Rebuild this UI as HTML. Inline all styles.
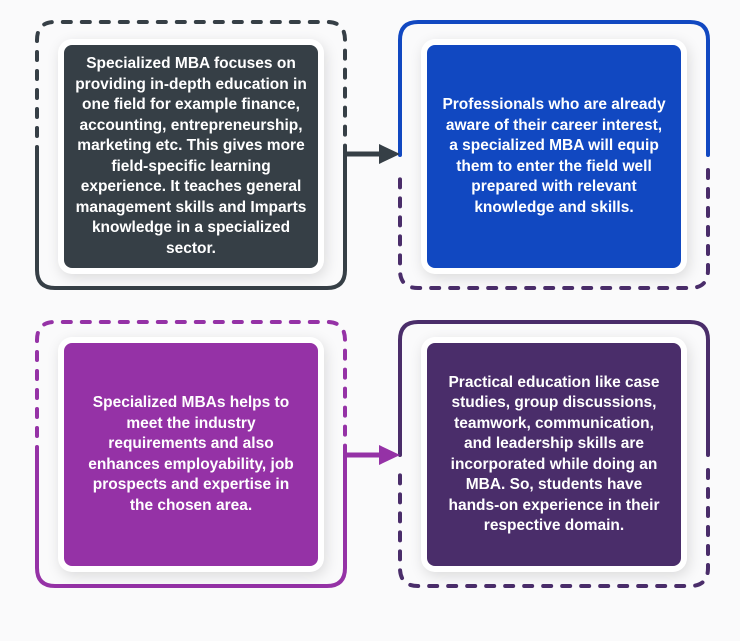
<!DOCTYPE html>
<html><head><meta charset="utf-8"><style>
body{margin:0;width:740px;height:641px;background:#fff;position:relative;overflow:hidden;font-family:"Liberation Sans Narrow","Liberation Sans",sans-serif}
.card{position:absolute;width:254px;height:223px;box-sizing:border-box;border-radius:8px;box-shadow:0 0 0 6px #fff,2px 4px 14px 6px rgba(0,0,0,0.13);display:flex;align-items:center;justify-content:center;text-align:center;color:#fff;font-weight:bold;font-size:15.5px;line-height:20.5px;padding:0 8px}
svg{position:absolute;left:0;top:0}
</style></head><body>
<svg width="740" height="641">
<rect x="0" y="0" width="740" height="641" fill="#fafafb"/>
<g fill="none" stroke-width="4" stroke-linecap="round">
<!-- TL -->
<path d="M37 155 V40 Q37 22 55 22 H327 Q345 22 345 40 V155" stroke="#363f46" stroke-dasharray="8 11"/>
<path d="M345 155 V270 Q345 288 327 288 H55 Q37 288 37 270 V155" stroke="#363f46"/>
<!-- TR -->
<path d="M400 155 V40 Q400 22 418 22 H690 Q708 22 708 40 V155" stroke="#1148c1"/>
<path d="M708 170 V270 Q708 288 690 288 H418 Q400 288 400 270 V170" stroke="#4a2d6a" stroke-dasharray="8 11"/>
<!-- BL -->
<path d="M37 455 V340 Q37 322 55 322 H327 Q345 322 345 340 V455" stroke="#9532a6" stroke-dasharray="8 11"/>
<path d="M345 455 V568 Q345 586 327 586 H55 Q37 586 37 568 V455" stroke="#9532a6"/>
<!-- BR -->
<path d="M400 455 V340 Q400 322 418 322 H690 Q708 322 708 340 V455" stroke="#4a2d6a"/>
<path d="M708 470 V568 Q708 586 690 586 H418 Q400 586 400 568 V470" stroke="#4a2d6a" stroke-dasharray="8 11"/>
</g>
<line x1="345" y1="154" x2="382" y2="154" stroke="#363f46" stroke-width="5"/>
<polygon points="379,144 400,154 379,164" fill="#363f46"/>
<line x1="345" y1="455" x2="382" y2="455" stroke="#9532a6" stroke-width="5"/>
<polygon points="379,445 400,455 379,465" fill="#9532a6"/>
</svg>
<div class="card" style="left:64px;top:45px;background:#363f46">Specialized MBA focuses on providing in-depth education in one field for example finance, accounting, entrepreneurship, marketing etc. This gives more field-specific learning experience. It teaches general management skills and Imparts knowledge in a specialized sector.</div>
<div class="card" style="left:427px;top:45px;background:#1148c1;padding:0 14px">Professionals who are already aware of their career interest, a specialized MBA will equip them to enter the field well prepared with relevant knowledge and skills.</div>
<div class="card" style="left:64px;top:343px;background:#9532a6;padding:0 16px">Specialized MBAs helps to meet the industry requirements and also enhances employability, job prospects and expertise in the chosen area.</div>
<div class="card" style="left:427px;top:343px;background:#4a2d6a;padding:0 14px">Practical education like case studies, group discussions, teamwork, communication, and leadership skills are incorporated while doing an MBA. So, students have hands-on experience in their respective domain.</div>
</body></html>
